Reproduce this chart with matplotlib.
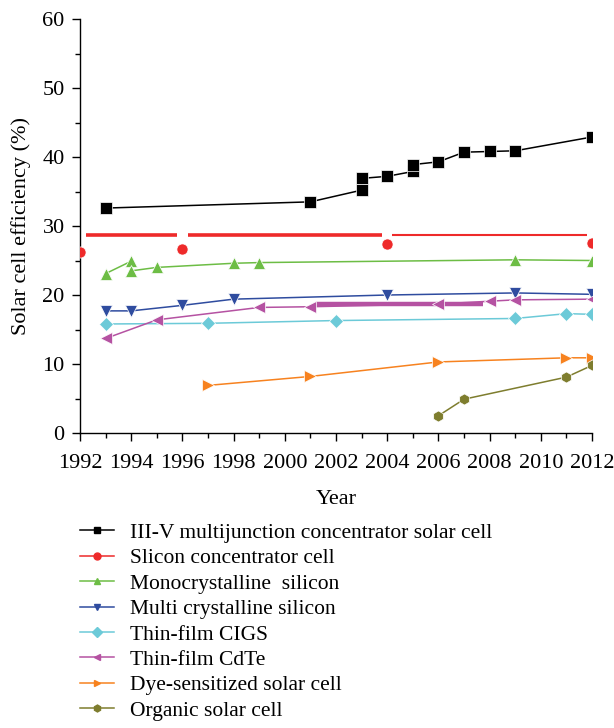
import matplotlib
matplotlib.use("Agg")
import matplotlib.pyplot as plt
from matplotlib.lines import Line2D
from matplotlib.ticker import MultipleLocator

plt.rcParams['font.family'] = ['Liberation Serif', 'DejaVu Serif']

# ---- data ----
iiiv_years = [1993, 2001, 2003, 2003, 2004, 2005, 2005, 2006, 2007, 2008, 2009, 2012]
iiiv_eff = [32.6, 33.5, 35.2, 36.9, 37.2, 37.9, 38.9, 39.3, 40.7, 40.8, 40.9, 42.9]

sicon_years = [1992, 1996, 2004, 2012]
sicon_eff = [26.2, 26.6, 27.4, 27.5]
sicon_bar_level = 28.7
sicon_bar_start = [1992.25, 1996.2, 2004.2]
sicon_bar_end = [1995.8, 2003.8, 2011.8]
sicon_bar_width = [2.6, 2.6, 1.5]

mono_years = [1993, 1994, 1994, 1995, 1998, 1999, 2009, 2012]
mono_eff = [23.1, 24.9, 23.5, 24.0, 24.6, 24.7, 25.1, 25.0]

multi_years = [1993, 1994, 1996, 1998, 2004, 2009, 2012]
multi_eff = [17.7, 17.7, 18.5, 19.4, 20.0, 20.3, 20.1]

cigs_years = [1993, 1997, 2002, 2009, 2011, 2012]
cigs_eff = [15.8, 15.9, 16.3, 16.6, 17.3, 17.2]

cdte_years = [1993, 1995, 1999, 2001, 2006, 2008, 2009, 2012]
cdte_eff = [13.7, 16.4, 18.2, 18.3, 18.7, 19.1, 19.3, 19.4]
cdte_bar_level = 18.7
cdte_bar_start = 2001.2
cdte_bar_end = 2007.75

dye_years = [1997, 2001, 2006, 2011, 2012]
dye_eff = [6.9, 8.2, 10.3, 10.9, 10.9]

org_years = [2006, 2007, 2011, 2012]
org_eff = [2.5, 4.9, 8.1, 9.8]

labels = ["III-V multijunction concentrator solar cell",
          "Slicon concentrator cell",
          "Monocrystalline  silicon",
          "Multi crystalline silicon",
          "Thin-film CIGS",
          "Thin-film CdTe",
          "Dye-sensitized solar cell",
          "Organic solar cell"]
colors = ["#000000", "#ee2a2a", "#6dbd45", "#2f4c9f", "#6ccad8", "#b552a2", "#f7821f", "#7e7d2e"]
markers = ["s", "o", "^", "v", "D", "<", ">", "h"]

fig = plt.figure(figsize=(6.14, 7.28), dpi=100)
ax = fig.add_axes([0.1303, 0.4052, 0.8339, 0.5687])

series = [(iiiv_years, iiiv_eff), (sicon_years, sicon_eff), (mono_years, mono_eff),
          (multi_years, multi_eff), (cigs_years, cigs_eff), (cdte_years, cdte_eff),
          (dye_years, dye_eff), (org_years, org_eff)]
msizes = [8, 8, 9, 9, 7.5, 9, 9, 8]

# red bars
for s, e, w in zip(sicon_bar_start, sicon_bar_end, sicon_bar_width):
    ax.plot([s, e], [sicon_bar_level, sicon_bar_level], color=colors[1], lw=w,
            solid_capstyle='butt', zorder=2)
# cdte thick bar
ax.plot([cdte_bar_start, cdte_bar_end], [cdte_bar_level, cdte_bar_level], color=colors[5],
        lw=3.2, solid_capstyle='butt', zorder=2)

for i, ((xs, ys), c, m, ms) in enumerate(zip(series, colors, markers, msizes)):
    ls = 'none' if i == 1 else '-'
    ax.plot(xs, ys, color=c, marker=m, ms=ms, lw=1.1, ls=ls,
            mec='white', mew=0.5, zorder=3)

ax.set_xlim(1992, 2012)
ax.set_ylim(0, 60)
ax.xaxis.set_major_locator(MultipleLocator(2))
ax.xaxis.set_minor_locator(MultipleLocator(1))
ax.yaxis.set_major_locator(MultipleLocator(10))
ax.yaxis.set_minor_locator(MultipleLocator(5))
for sp in ['top', 'right']:
    ax.spines[sp].set_visible(False)
for sp in ['left', 'bottom']:
    ax.spines[sp].set_linewidth(1.0)
ax.tick_params(which='major', direction='out', length=6, width=1.0, labelsize=16)
ax.tick_params(which='minor', direction='out', length=3.5, width=1.0)
ax.tick_params(axis='x', which='major', pad=9)
ax.tick_params(axis='y', which='major', pad=5)
ax.set_xlabel("Year", fontsize=16, labelpad=12)
ax.set_ylabel("Solar cell efficiency (%)", fontsize=16, labelpad=8)

handles = [Line2D([], [], color=c, marker=m, ms=5, lw=1.1, mec=c) for c, m in zip(colors, markers)]
fig.legend(handles, labels, loc='upper left', bbox_to_anchor=(0.130, 0.282),
           frameon=False, fontsize=15.5, handlelength=1.6, handletextpad=0.75,
           labelspacing=0.25, borderpad=0, borderaxespad=0)

fig.savefig("out.png", dpi=100)
